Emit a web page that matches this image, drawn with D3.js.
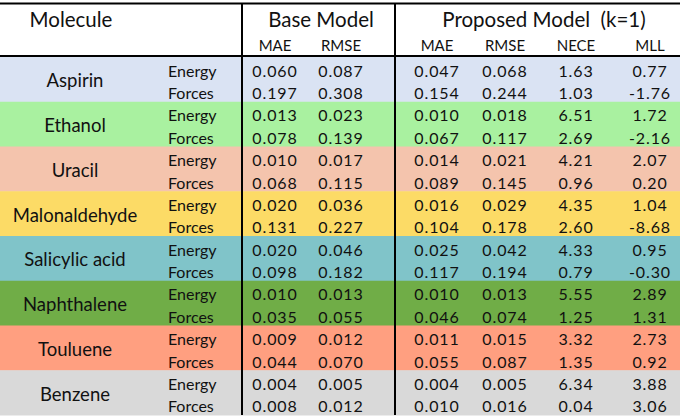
<!DOCTYPE html>
<html>
<head>
<meta charset="utf-8">
<script src="https://cdn.jsdelivr.net/npm/d3@7"></script>
<style>
  body { margin: 0; background: #fff; }
  svg { display: block; font-family: Lato, "Open Sans", sans-serif; }
</style>
</head>
<body>
<svg id="table"></svg>
<script>
var molecules = ["Aspirin", "Ethanol", "Uracil", "Malonaldehyde", "Salicylic acid", "Naphthalene", "Touluene", "Benzene"];
var targets = ["Energy", "Forces"];
var rowColors = ["#dae3f3", "#a9f1a0", "#f4c4ad", "#fcdb66", "#80c4c9", "#70ad47", "#ff9f80", "#d9d9d9"];

// energy, forces for each molecule in order
var baseMAE   = [0.060, 0.197, 0.013, 0.078, 0.010, 0.068, 0.020, 0.131, 0.020, 0.098, 0.010, 0.035, 0.009, 0.044, 0.004, 0.008];
var baseRMSE  = [0.087, 0.308, 0.023, 0.139, 0.017, 0.115, 0.036, 0.227, 0.046, 0.182, 0.013, 0.055, 0.012, 0.070, 0.005, 0.012];
var propMAE   = [0.047, 0.154, 0.010, 0.067, 0.014, 0.089, 0.016, 0.104, 0.025, 0.117, 0.010, 0.046, 0.011, 0.055, 0.004, 0.010];
var propRMSE  = [0.068, 0.244, 0.018, 0.117, 0.021, 0.145, 0.029, 0.178, 0.042, 0.194, 0.013, 0.074, 0.015, 0.087, 0.005, 0.016];
var propNECE  = [1.63, 1.03, 6.51, 2.69, 4.21, 0.96, 4.35, 2.60, 4.33, 0.79, 5.55, 1.25, 3.32, 1.35, 6.34, 0.04];
var propMLL   = [0.77, -1.76, 1.72, -2.16, 2.07, 0.20, 1.04, -8.68, 0.95, -0.30, 2.89, 1.31, 2.73, 0.92, 3.88, 3.06];

var colNames = ["MAE", "RMSE", "MAE", "RMSE", "NECE", "MLL"];
var groups = [{ name: "Base Model", x0: 242, x1: 395 }, { name: "Proposed Model  (k=1)", x0: 395, x1: 680 }];

var width = 680, height = 420;
var svg = d3.select("#table").attr("width", width).attr("height", height);

var locale = d3.formatLocale({ decimal: ".", thousands: ",", grouping: [3], currency: ["", ""], minus: "-" });
var f3 = locale.format(".3f"), f2 = locale.format(".2f");

var columns = [
  { key: "bMAE", values: baseMAE, fmt: f3 },
  { key: "bRMSE", values: baseRMSE, fmt: f3 },
  { key: "pMAE", values: propMAE, fmt: f3 },
  { key: "pRMSE", values: propRMSE, fmt: f3 },
  { key: "pNECE", values: propNECE, fmt: f2 },
  { key: "pMLL", values: propMLL, fmt: f2 }
];

var xCol = d3.scaleOrdinal()
  .domain(columns.map(function(c) { return c.key; }))
  .range([275, 341, 437, 505, 576, 650]);

var yMol = d3.scaleBand().domain(molecules).range([57, 415]);
var ySub = d3.scaleBand().domain(targets).range([0, yMol.bandwidth()]);

// row backgrounds
svg.selectAll("rect.row")
  .data(molecules)
  .enter().append("rect")
  .attr("class", "row")
  .attr("x", 0)
  .attr("y", function(d) { return yMol(d); })
  .attr("width", width)
  .attr("height", yMol.bandwidth() + 0.5)
  .attr("fill", function(d, i) { return rowColors[i]; });

// header
svg.append("text")
  .attr("x", 71).attr("y", 19)
  .attr("text-anchor", "middle").attr("dominant-baseline", "central")
  .attr("font-size", 20.5).attr("fill", "#111")
  .text("Molecule");

svg.selectAll("text.group")
  .data(groups)
  .enter().append("text")
  .attr("class", "group")
  .attr("x", function(d, i) { return i === 0 ? 321 : 544; })
  .attr("y", 19)
  .attr("text-anchor", "middle").attr("dominant-baseline", "central")
  .attr("font-size", 20.5).attr("fill", "#111")
  .attr("xml:space", "preserve")
  .text(function(d) { return d.name; });

svg.selectAll("text.colhead")
  .data(columns)
  .enter().append("text")
  .attr("class", "colhead")
  .attr("x", function(d) { return xCol(d.key); })
  .attr("y", 45)
  .attr("text-anchor", "middle").attr("dominant-baseline", "central")
  .attr("font-size", 15).attr("fill", "#111")
  .text(function(d, i) { return colNames[i]; });

// molecule names
svg.selectAll("text.mol")
  .data(molecules)
  .enter().append("text")
  .attr("class", "mol")
  .attr("x", 75)
  .attr("y", function(d) { return yMol(d) + yMol.bandwidth() / 2 + 1; })
  .attr("text-anchor", "middle").attr("dominant-baseline", "central")
  .attr("font-size", 18.5).attr("fill", "#111")
  .text(function(d) { return d; });

// cells
var cells = [];
molecules.forEach(function(m, mi) {
  targets.forEach(function(t, ti) {
    cells.push({ mol: m, target: t, idx: mi * 2 + ti });
  });
});

var rows = svg.selectAll("g.cellrow")
  .data(cells)
  .enter().append("g")
  .attr("class", "cellrow")
  .attr("transform", function(d) {
    return "translate(0," + (yMol(d.mol) + ySub(d.target) + ySub.bandwidth() / 2 + 2) + ")";
  });

rows.append("text")
  .attr("x", 168)
  .attr("dominant-baseline", "central")
  .attr("font-size", 16).attr("fill", "#111")
  .text(function(d) { return d.target; });

columns.forEach(function(c) {
  rows.append("text")
    .attr("x", xCol(c.key))
    .attr("text-anchor", "middle").attr("dominant-baseline", "central")
    .attr("font-size", 16).attr("fill", "#111")
    .attr("letter-spacing", 0.9)
    .text(function(d) { return c.fmt(c.values[d.idx]); });
});

// rules
svg.append("line").attr("x1", 0).attr("x2", width).attr("y1", 3.5).attr("y2", 3.5)
  .attr("stroke", "#000").attr("stroke-width", 2);
svg.append("line").attr("x1", 0).attr("x2", width).attr("y1", 56).attr("y2", 56)
  .attr("stroke", "#000").attr("stroke-width", 2);
svg.selectAll("line.vsep")
  .data([242, 395])
  .enter().append("line")
  .attr("class", "vsep")
  .attr("x1", function(d) { return d; }).attr("x2", function(d) { return d; })
  .attr("y1", 3).attr("y2", 415)
  .attr("stroke", "#000").attr("stroke-width", 2);
</script>
</body>
</html>
